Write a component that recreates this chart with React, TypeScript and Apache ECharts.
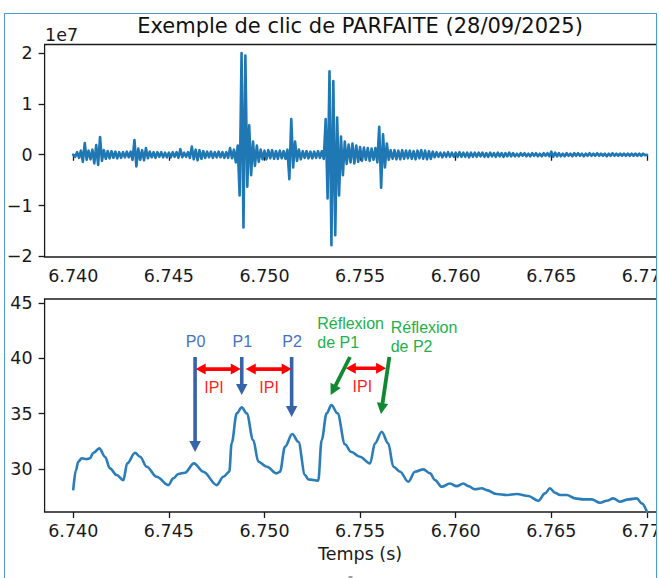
import React, { useEffect, useRef } from "react";
import * as echarts from "echarts";

const TITLE = "Exemple de clic de PARFAITE (28/09/2025)";
const X_LABEL = "Temps (s)";
const OFFSET_LABEL = "1e7";
const X_TICKS = [6.74, 6.745, 6.75, 6.755, 6.76, 6.765, 6.77];
const TOP_Y_TICKS = [-2, -1, 0, 1, 2];
const BOTTOM_Y_TICKS = [30, 35, 40, 45];

// Raw waveform (units of 1e7), sampled every 0.1 ms from 6.740 s
const TOP_T0 = 6.74;
const TOP_DT = 0.0001;
const TOP_VALUES = [
  0.0, -0.04, 0.05, -0.06, 0.08, -0.14, 0.23, -0.1, 0.08, -0.09,
  0.1, -0.17, 0.19, -0.2, 0.35, -0.12, 0.09, -0.08, 0.07, -0.07,
  0.07, -0.06, 0.06, -0.07, 0.05, -0.06, 0.05, -0.05, 0.06, -0.05,
  0.06, -0.1, 0.29, -0.23, 0.12, -0.1, 0.09, -0.11, 0.13, -0.07,
  0.06, -0.05, 0.05, -0.06, 0.05, -0.04, 0.05, -0.05, 0.04, -0.05,
  0.04, -0.05, 0.05, -0.04, 0.05, -0.06, 0.11, -0.05, 0.04, -0.04,
  0.05, -0.06, 0.16, -0.09, 0.1, -0.11, 0.09, -0.08, 0.07, -0.06,
  0.06, -0.05, 0.06, -0.06, 0.05, -0.05, 0.06, -0.05, 0.05, -0.06,
  0.05, -0.06, 0.13, -0.07, 0.1, -0.15, 0.18, -0.8, 2.0, -1.43,
  1.95, -0.63, 0.58, -0.4, 0.26, -0.22, 0.18, -0.14, 0.1, -0.09,
  0.08, -0.09, 0.09, -0.07, 0.09, -0.08, 0.07, -0.08, 0.08, -0.07,
  0.07, -0.08, 0.1, -0.48, 0.7, -0.25, 0.26, -0.12, 0.1, -0.09,
  0.07, -0.06, 0.07, -0.07, 0.06, -0.07, 0.06, -0.06, 0.07, -0.06,
  0.07, -0.08, 0.7, -0.86, 1.64, -1.78, 1.45, -1.58, 0.73, -0.8,
  0.36, -0.4, 0.26, -0.18, 0.2, -0.15, 0.22, -0.17, 0.18, -0.14,
  0.15, -0.12, 0.14, -0.1, 0.13, -0.12, 0.12, -0.1, 0.13, -0.15,
  0.55, -0.65, 0.4, -0.25, 0.22, -0.1, 0.09, -0.08, 0.09, -0.09,
  0.08, -0.09, 0.09, -0.08, 0.08, -0.07, 0.08, -0.08, 0.07, -0.09,
  0.08, -0.07, 0.09, -0.08, 0.08, -0.09, 0.07, -0.08, 0.06, -0.05,
  0.05, -0.04, 0.04, -0.05, 0.04, -0.04, 0.05, -0.04, 0.04, -0.04,
  0.04, -0.04, 0.05, -0.04, 0.04, -0.04, 0.04, -0.05, 0.04, -0.04,
  0.04, -0.04, 0.04, -0.03, 0.04, -0.04, 0.03, -0.04, 0.04, -0.03,
  0.03, -0.04, 0.04, -0.03, 0.03, -0.04, 0.03, -0.03, 0.04, -0.03,
  0.03, -0.03, 0.02, -0.03, 0.03, -0.02, 0.03, -0.03, 0.02, -0.03,
  0.03, -0.02, 0.03, -0.03, 0.02, -0.03, 0.03, -0.02, 0.03, -0.03,
  0.06, -0.04, 0.04, -0.03, 0.03, -0.03, 0.02, -0.03, 0.03, -0.02,
  0.02, -0.03, 0.03, -0.02, 0.03, -0.02, 0.02, -0.03, 0.02, -0.02,
  0.03, -0.02, 0.02, -0.02, 0.03, -0.02, 0.02, -0.02, 0.02, -0.03,
  0.02, -0.02, 0.03, -0.02, 0.02, -0.02, 0.02, -0.02, 0.02, -0.02,
  0.02, -0.02, 0.02, -0.02, 0.02, -0.02, 0.02, -0.02, 0.02, -0.01,
  0.0,
];

// Smoothed envelope
const BOTTOM_T = [
  6.74, 6.74014, 6.74026, 6.74044, 6.7407, 6.74087, 6.74105, 6.74136, 6.74166, 6.74192,
  6.74227, 6.74262, 6.74282, 6.74323, 6.74349, 6.74384, 6.74436, 6.74497, 6.74523, 6.74549,
  6.74584, 6.74631, 6.7468, 6.7475, 6.74785, 6.74816, 6.74828, 6.74855, 6.74881, 6.74907,
  6.74941, 6.74968, 6.75012, 6.75064, 6.75081, 6.75107, 6.75145, 6.75177, 6.75212, 6.75229,
  6.75281, 6.75299, 6.75325, 6.7535, 6.75382, 6.75421, 6.75452, 6.75499, 6.75552, 6.75578,
  6.75613, 6.75647, 6.75674, 6.75709, 6.75752, 6.75787, 6.75831, 6.75866, 6.75892, 6.75927,
  6.7597, 6.76005, 6.7604, 6.76066, 6.76101, 6.76136, 6.76162, 6.76214, 6.76267, 6.76319,
  6.7638, 6.76432, 6.76467, 6.76493, 6.76519, 6.76546, 6.76581, 6.76624, 6.76667, 6.76711,
  6.76755, 6.7679, 6.76824, 6.76859, 6.76903, 6.76947, 6.76973, 6.77,
];
const BOTTOM_V = [
  28.17, 29.9, 30.66, 30.97, 30.9, 30.97, 31.47, 31.87, 31.11, 30.06,
  29.46, 29.0, 30.51, 31.47, 31.11, 30.21, 29.3, 28.55, 29.16, 29.55,
  29.67, 30.51, 29.76, 28.55, 29.3, 29.76, 32.32, 35.03, 35.57, 35.03,
  32.62, 30.66, 30.21, 29.61, 29.76, 32.01, 33.16, 32.47, 29.46, 29.07,
  28.94, 32.62, 35.03, 35.78, 35.03, 32.24, 31.56, 31.11, 30.51, 32.32,
  33.37, 32.32, 30.21, 29.76, 28.85, 29.76, 29.97, 29.61, 29.0, 28.4,
  28.7, 28.46, 28.7, 28.46, 28.17, 28.26, 28.1, 27.74, 27.65, 27.74,
  27.56, 27.14, 27.8, 28.26, 27.86, 27.65, 27.65, 27.35, 27.26, 27.26,
  26.96, 27.14, 27.35, 27.05, 27.26, 27.35, 26.9, 26.14,
];

// Annotations (data coordinates of the lower panel)
const PULSE_LABELS = ["P0", "P1", "P2"];
const PULSE_T = [6.74637, 6.74881, 6.75142];
const PULSE_TIP = [31.54, 36.68, 34.7];
const ARROW_TOP_V = 40.12;
const PULSE_LABEL_V = 41.56;
const IPI_SPANS = [
  [6.7464, 6.74876, 39.03],
  [6.74902, 6.75142, 39.03],
  [6.75425, 6.75636, 39.1],
];
const IPI_TEXT_POS = [
  [6.74736, 37.41],
  [6.75024, 37.41],
  [6.75512, 37.43],
];
const REFLEX_ARROWS = [
  [6.75447, 40.12, 6.75346, 36.68],
  [6.75653, 40.12, 6.75609, 34.97],
];
const REFLEX_LABELS = [
  { lines: ["Réflexion", "de P1"], t: 6.75276, v: [43.19, 41.47] },
  { lines: ["Réflexion", "de P2"], t: 6.7566, v: [42.83, 41.11] },
];

const AXIS_FONT = "DejaVu Sans";
const ANN_FONT = '16px "Liberation Sans", Arial, sans-serif';

function arrowPoints(x1: number, y1: number, x2: number, y2: number, w: number, hl: number, hw: number, both: boolean) {
  const dx = x2 - x1, dy = y2 - y1;
  const len = Math.hypot(dx, dy);
  const ux = dx / len, uy = dy / len;
  const nx = -uy, ny = ux;
  const bx2 = x2 - ux * hl, by2 = y2 - uy * hl;
  if (both) {
    const bx1 = x1 + ux * hl, by1 = y1 + uy * hl;
    return [
      [x1, y1],
      [bx1 + nx * hw / 2, by1 + ny * hw / 2],
      [bx1 + nx * w / 2, by1 + ny * w / 2],
      [bx2 + nx * w / 2, by2 + ny * w / 2],
      [bx2 + nx * hw / 2, by2 + ny * hw / 2],
      [x2, y2],
      [bx2 - nx * hw / 2, by2 - ny * hw / 2],
      [bx2 - nx * w / 2, by2 - ny * w / 2],
      [bx1 - nx * w / 2, by1 - ny * w / 2],
      [bx1 - nx * hw / 2, by1 - ny * hw / 2],
    ];
  }
  return [
    [x1 + nx * w / 2, y1 + ny * w / 2],
    [bx2 + nx * w / 2, by2 + ny * w / 2],
    [bx2 + nx * hw / 2, by2 + ny * hw / 2],
    [x2, y2],
    [bx2 - nx * hw / 2, by2 - ny * hw / 2],
    [bx2 - nx * w / 2, by2 - ny * w / 2],
    [x1 - nx * w / 2, y1 - ny * w / 2],
  ];
}

const fmtY = (v: number) => (v < 0 ? "\u2212" + Math.abs(v) : String(v));

export default function App() {
  const ref = useRef<HTMLDivElement>(null);

  useEffect(() => {
    if (!ref.current) return;
    const chart = echarts.init(ref.current, null, { renderer: "svg" });
    const ink = "#1a1a1a";
    const xAxisBase = (gridIndex: number) => ({
      type: "value",
      gridIndex,
      min: 6.7385,
      max: 6.7715,
      axisLine: { show: false },
      splitLine: { show: false },
      axisTick: { show: true, length: 6, lineStyle: { color: ink, width: 1.3 }, customValues: X_TICKS },
      axisLabel: {
        customValues: X_TICKS,
        formatter: (v: number) => v.toFixed(3),
        fontFamily: AXIS_FONT,
        fontSize: 17.5,
        color: ink,
        margin: 10,
      },
    });
    const yAxisBase = (gridIndex: number, min: number, max: number, ticks: number[]) => ({
      type: "value",
      gridIndex,
      min,
      max,
      axisLine: { show: false },
      splitLine: { show: false },
      axisTick: { show: true, length: 6, lineStyle: { color: ink, width: 1.3 }, customValues: ticks },
      axisLabel: {
        customValues: ticks,
        formatter: fmtY,
        fontFamily: AXIS_FONT,
        fontSize: 17.5,
        color: ink,
        margin: 12,
      },
    });

    const option: any = {
      animation: false,
      backgroundColor: "#ffffff",
      grid: [
        { left: 44.6, top: 44.5, width: 631, height: 212.5, show: true, borderColor: ink, borderWidth: 1.3, backgroundColor: "transparent" },
        { left: 44.6, top: 299, width: 631, height: 213, show: true, borderColor: ink, borderWidth: 1.3, backgroundColor: "transparent" },
      ],
      xAxis: [xAxisBase(0), xAxisBase(1)],
      yAxis: [yAxisBase(0, -2.01, 2.167, TOP_Y_TICKS), yAxisBase(1, 26.12, 45.36, BOTTOM_Y_TICKS)],
      series: [
        {
          type: "line",
          xAxisIndex: 0,
          yAxisIndex: 0,
          data: TOP_VALUES.map((v, i) => [TOP_T0 + i * TOP_DT, v]),
          showSymbol: false,
          symbol: "none",
          lineStyle: { color: "#1f77b4", width: 2.6, join: "round", cap: "round" },
        },
        {
          type: "line",
          xAxisIndex: 1,
          yAxisIndex: 1,
          data: BOTTOM_T.map((t, i) => [t, BOTTOM_V[i]]),
          showSymbol: false,
          symbol: "none",
          smooth: 0.35,
          smoothMonotone: "x",
          lineStyle: { color: "#2a7db8", width: 2.6, join: "round", cap: "round" },
        },
      ],
    };
    chart.setOption(option);

    const P = (t: number, v: number) => chart.convertToPixel({ gridIndex: 1 } as any, [t, v]) as number[];
    const els: any[] = [];
    const text = (x: number, y: number, s: string, font: string, fill: string, align = "center", vAlign = "middle") => ({
      type: "text",
      x,
      y,
      silent: true,
      style: { text: s, font, fill, align, verticalAlign: vAlign, textAlign: align, textVerticalAlign: vAlign },
    });

    // Title, offset text and x-axis name
    els.push(text(360.1, 26, TITLE, `21px "${AXIS_FONT}"`, "#111"));
    els.push(text(45, 35, OFFSET_LABEL, `17.5px "${AXIS_FONT}"`, ink, "left"));
    els.push(text(360.1, 554, X_LABEL, `17.5px "${AXIS_FONT}"`, ink));

    // Blue pulse arrows and labels
    PULSE_T.forEach((t, i) => {
      const a = P(t, ARROW_TOP_V);
      const b = P(t, PULSE_TIP[i]);
      els.push({ type: "polygon", silent: true, shape: { points: arrowPoints(a[0], a[1], b[0], b[1], 3.6, 11, 11.5, false) }, style: { fill: "#3763a8" } });
      const l = P(t, PULSE_LABEL_V);
      els.push(text(l[0] + 0.5, l[1], PULSE_LABELS[i], ANN_FONT, "#4472c4"));
    });
    // Red IPI double arrows and labels
    IPI_SPANS.forEach(([t1, t2, v], i) => {
      const a = P(t1, v);
      const b = P(t2, v);
      els.push({ type: "polygon", silent: true, shape: { points: arrowPoints(a[0], a[1], b[0], b[1], 3.6, 10, 11, true) }, style: { fill: "#ff0000" } });
      const p = P(IPI_TEXT_POS[i][0], IPI_TEXT_POS[i][1]);
      els.push(text(p[0], p[1], "IPI", ANN_FONT, "#ff1f1f"));
    });
    // Green reflection arrows and labels
    REFLEX_ARROWS.forEach(([t1, v1, t2, v2]) => {
      const a = P(t1, v1);
      const b = P(t2, v2);
      els.push({ type: "polygon", silent: true, shape: { points: arrowPoints(a[0], a[1], b[0], b[1], 3.8, 11, 11.5, false) }, style: { fill: "#108a32" } });
    });
    REFLEX_LABELS.forEach((r) => {
      r.lines.forEach((s, j) => {
        const p = P(r.t, r.v[j]);
        els.push(text(p[0], p[1], s, ANN_FONT, "#22b04b", "left"));
      });
    });
    // small grey mark at bottom edge
    els.push({ type: "rect", silent: true, shape: { x: 348.5, y: 576, width: 4, height: 2 }, style: { fill: "#a0a0a0" } });

    chart.setOption({ graphic: { elements: els } });
    return () => chart.dispose();
  }, []);

  return (
    <div style={{ position: "fixed", left: 0, top: 0, width: 660, height: 578, overflow: "hidden", background: "#fff" }}>
      <div
        style={{
          position: "absolute",
          left: 4,
          top: 13,
          width: 653,
          height: 640,
          border: "1.5px solid #4a9bd1",
          boxSizing: "border-box",
          overflow: "hidden",
        }}
      >
        <div ref={ref} style={{ position: "absolute", left: -5.5, top: -14.5, width: 700, height: 600 }} />
      </div>
    </div>
  );
}
